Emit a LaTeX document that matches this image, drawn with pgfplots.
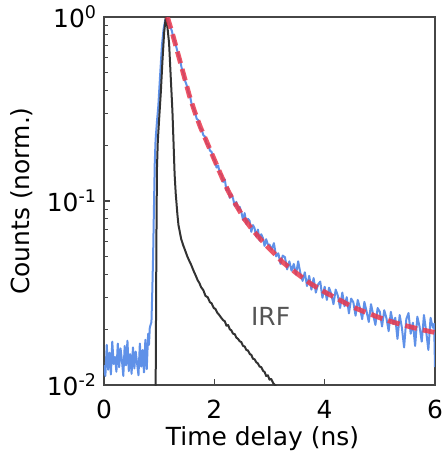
\documentclass[border=0pt]{standalone}
\usepackage{pgfplots}
\pgfplotsset{compat=1.18}
\usepackage{fontspec}
\setmainfont{DejaVu Sans}

\definecolor{trace}{RGB}{95,145,232}
\definecolor{irfcol}{RGB}{50,50,50}
\definecolor{fitcol}{RGB}{234,56,76}
\definecolor{axisgray}{RGB}{70,70,70}
\definecolor{labelgray}{RGB}{85,85,85}

\begin{document}
\begin{tikzpicture}
\useasboundingbox (-52bp,-34bp) rectangle (170bp,192.5bp);
\begin{axis}[
  at={(0,0)}, anchor=south west,
  scale only axis, width=165.5bp, height=184bp,
  xmin=0, xmax=6,
  ymode=log, ymin=0.01, ymax=1,
  xtick={0,2,4,6},
  ytick={0.01,0.1,1},
  yticklabels={10\textsuperscript{-2},10\textsuperscript{-1},10\textsuperscript{0}},
  /pgf/number format/assume math mode=true,
  tick pos=left, tick align=inside,
  major tick length=3bp, minor tick length=2bp,
  axis line style={draw=axisgray, line width=0.8bp},
  every tick/.style={axisgray, line width=0.6bp},
  tick label style={font=\fontsize{12.5}{15}\selectfont},
  xticklabel style={yshift=-4bp},
  label style={font=\fontsize{12.5}{15}\selectfont},
  xlabel={Time delay (ns)},
  xlabel style={xshift=-3.5bp, yshift=3bp},
  ylabel={Counts (norm.)},
]

% measured decay
\addplot[trace, line width=1bp, line join=round] coordinates {
(0.000,0.0128)(0.025,0.0112)(0.050,0.0165)(0.075,0.0121)(0.100,0.0150)
(0.125,0.0114)(0.150,0.0172)(0.175,0.0130)(0.200,0.0142)(0.225,0.0118)
(0.250,0.0168)(0.275,0.0125)(0.300,0.0158)(0.325,0.0136)(0.350,0.0112)
(0.375,0.0163)(0.400,0.0128)(0.425,0.0174)(0.450,0.0119)(0.475,0.0147)
(0.500,0.0115)(0.525,0.0160)(0.550,0.0123)(0.575,0.0152)(0.600,0.0131)
(0.625,0.0113)(0.650,0.0168)(0.675,0.0126)(0.700,0.0155)(0.725,0.0117)
(0.750,0.0176)(0.775,0.0122)(0.800,0.0190)(0.815,0.0165)(0.830,0.0205)
(0.860,0.022)(0.875,0.032)(0.890,0.050)(0.905,0.090)(0.920,0.160)
(0.935,0.215)(0.960,0.270)(0.985,0.330)(1.015,0.470)(1.050,0.700)
(1.080,0.860)(1.110,0.960)(1.140,1.000)
(1.17,0.955)(1.20,0.89)(1.23,0.84)(1.26,0.77)(1.29,0.73)(1.32,0.67)
(1.35,0.62)(1.38,0.58)(1.41,0.525)(1.44,0.495)(1.47,0.45)(1.50,0.425)
(1.53,0.39)(1.56,0.37)(1.59,0.335)(1.62,0.32)(1.65,0.305)(1.68,0.28)
(1.71,0.275)(1.74,0.25)(1.77,0.245)(1.80,0.228)(1.83,0.224)(1.86,0.205)
(1.89,0.203)(1.92,0.188)(1.95,0.185)(1.98,0.171)
(2.01,0.166)(2.04,0.152)(2.07,0.156)(2.10,0.141)(2.13,0.139)(2.16,0.127)
(2.19,0.131)(2.22,0.114)(2.25,0.118)(2.28,0.104)(2.31,0.109)(2.34,0.103)
(2.37,0.094)(2.40,0.099)(2.43,0.089)(2.46,0.093)(2.49,0.087)(2.52,0.079)
(2.55,0.086)(2.58,0.075)(2.61,0.080)(2.64,0.078)(2.67,0.068)(2.70,0.074)
(2.73,0.071)(2.76,0.064)(2.79,0.070)(2.82,0.061)(2.85,0.066)(2.88,0.063)
(2.91,0.057)(2.94,0.062)(2.97,0.058)
(3.00,0.0580)(3.04,0.0545)(3.08,0.0590)(3.12,0.0500)(3.16,0.0520)(3.20,0.0455)
(3.24,0.0505)(3.28,0.0495)(3.32,0.0425)(3.36,0.0470)(3.40,0.0418)(3.44,0.0455)
(3.48,0.0398)(3.52,0.0470)(3.56,0.0405)(3.60,0.0368)(3.64,0.0410)(3.68,0.0345)
(3.72,0.0392)(3.76,0.0330)(3.80,0.0381)(3.84,0.0318)(3.88,0.0352)(3.92,0.0365)
(3.96,0.0298)(4.00,0.0342)(4.04,0.0290)(4.08,0.0338)(4.12,0.0312)(4.16,0.0275)
(4.20,0.0330)(4.24,0.0305)(4.28,0.0262)(4.32,0.0318)(4.36,0.0268)(4.40,0.0300)
(4.44,0.0245)(4.48,0.0295)(4.52,0.0282)(4.56,0.0238)(4.60,0.0290)(4.64,0.0262)
(4.68,0.0228)(4.72,0.0283)(4.76,0.0251)(4.80,0.0220)(4.84,0.0275)(4.88,0.0241)
(4.92,0.0212)(4.96,0.0262)(5.00,0.0250)(5.04,0.0208)(5.08,0.0255)(5.12,0.0231)
(5.16,0.0196)(5.20,0.0250)(5.24,0.0215)(5.28,0.0232)(5.32,0.0178)(5.36,0.0240)
(5.40,0.0205)(5.44,0.0160)(5.48,0.0228)(5.52,0.0246)(5.56,0.0190)(5.60,0.0218)
(5.64,0.0163)(5.68,0.0235)(5.72,0.0208)(5.76,0.0172)(5.80,0.0240)(5.84,0.0196)
(5.88,0.0155)(5.92,0.0232)(5.96,0.0205)(5.985,0.0215)(6.00,0.0125)
};

% instrument response function
\addplot[irfcol, line width=1bp, line join=round] coordinates {
(0.935,0.008)(0.950,0.06)(0.960,0.15)(0.975,0.21)(1.00,0.28)(1.03,0.39)
(1.06,0.58)(1.09,0.82)(1.12,1.00)(1.15,0.88)(1.18,0.72)(1.21,0.47)
(1.24,0.31)(1.26,0.21)(1.28,0.14)(1.30,0.11)(1.33,0.085)(1.35,0.074)
(1.40,0.062)(1.44,0.057)(1.47,0.054)(1.51,0.050)(1.55,0.047)(1.58,0.045)
(1.62,0.042)(1.66,0.0395)(1.70,0.037)(1.73,0.0358)(1.76,0.0340)(1.80,0.0328)
(1.84,0.0305)(1.88,0.0300)(1.92,0.0282)(1.95,0.0278)(1.99,0.0262)(2.02,0.0259)
(2.05,0.0248)(2.09,0.0240)(2.12,0.0233)(2.16,0.0225)(2.19,0.0222)(2.22,0.0210)
(2.25,0.0212)(2.28,0.0201)(2.31,0.0198)(2.34,0.0190)(2.37,0.0189)(2.40,0.0181)
(2.43,0.0178)(2.46,0.0173)(2.49,0.0171)(2.52,0.0163)(2.55,0.0162)(2.58,0.0155)
(2.61,0.0154)(2.645,0.0147)(2.67,0.0146)(2.70,0.0139)(2.73,0.0138)(2.76,0.0133)
(2.79,0.0131)(2.82,0.0126)(2.85,0.0125)(2.886,0.0119)(2.91,0.0118)(2.94,0.0112)
(2.97,0.0113)(3.00,0.0107)(3.03,0.0108)(3.07,0.0102)(3.10,0.0100)(3.15,0.0095)
};

% bi-exponential fit
\addplot[fitcol, opacity=0.85, line width=2.4bp, dash pattern=on 6bp off 3bp] coordinates {
(1.15,1.0)(1.25,0.794)(1.35,0.617)(1.45,0.479)(1.55,0.372)(1.65,0.302)
(1.75,0.251)(1.85,0.214)(1.95,0.182)(2.05,0.155)(2.15,0.132)(2.25,0.1135)
(2.35,0.100)(2.45,0.0891)(2.55,0.0794)(2.65,0.0724)(2.80,0.0638)(3.00,0.0550)
(3.25,0.0462)(3.50,0.0403)(3.75,0.0355)(4.00,0.0320)(4.25,0.0292)(4.50,0.0266)
(4.75,0.0248)(5.00,0.0232)(5.25,0.0219)(5.50,0.0209)(5.75,0.0200)(6.00,0.0193)
};

\node[anchor=west, text=labelgray, font=\fontsize{12.5}{15}\selectfont, inner sep=0pt]
  at (axis cs:2.66,0.0235) {IRF};
\end{axis}
\end{tikzpicture}
\end{document}
